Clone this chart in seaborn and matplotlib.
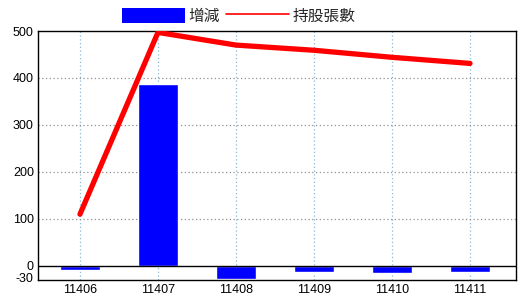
import matplotlib
matplotlib.use("Agg")
import matplotlib.pyplot as plt
import matplotlib.transforms as mtransforms
import seaborn as sns
import pandas as pd
from matplotlib.patches import Patch
from matplotlib.lines import Line2D

months = ["11406", "11407", "11408", "11409", "11410", "11411"]
change = [-8, 387, -28, -13, -15, -13]
holders = [110, 497, 470, 459, 444, 431]
yticks = [-30, 0, 100, 200, 300, 400, 500]
series_names = ["增減", "持股張數"]

sns.set_theme(style="white")
plt.rcParams['font.family'] = ['Liberation Sans', 'DejaVu Sans']

df = pd.DataFrame({"month": months, "change": change, "holders": holders})

fig = plt.figure(figsize=(5.2, 3.0), dpi=100)
ax = fig.add_axes([38/520, 20/300, (516-38)/520, (280-31)/300])

ax.set_axisbelow(True)
for i in range(len(months)):
    ax.axvline(i, color="#8ab8d8", lw=0.9, ls=(0, (1, 2)), zorder=0)
for y in yticks:
    if 0 < y < 500:
        ax.axhline(y, color="#909090", lw=0.9, ls=(0, (1, 2)), zorder=0)

sns.barplot(data=df, x="month", y="change", color="#0000ff", saturation=1,
            width=0.51, ax=ax, zorder=2)
sns.pointplot(data=df, x="month", y="holders", color="#ff0000", markers="",
              linewidth=3.8, ax=ax, zorder=3)
ax.axhline(0, color="black", lw=1.0, zorder=2.5)

ax.set_ylim(-30, 500)
ax.set_xlim(-0.538, 5.59)
ax.set_yticks(yticks)
ax.set_yticklabels([str(v) for v in yticks])
ax.set_xlabel("")
ax.set_ylabel("")
ax.tick_params(axis="both", length=0, labelsize=9, colors="black")
ax.tick_params(axis="y", pad=3)
ax.tick_params(axis="x", pad=3)
shift = mtransforms.ScaledTranslation(0, 2/100, fig.dpi_scale_trans)
for lab in ax.get_yticklabels():
    if lab.get_text() == "-30":
        lab.set_transform(lab.get_transform() + shift)
for sp in ax.spines.values():
    sp.set_color("black")
    sp.set_linewidth(1.0)

handles = [Patch(facecolor="#0000ff", edgecolor="none"),
           Line2D([], [], color="#ff0000", lw=1.2)]
fig.legend(handles, series_names, loc="center", bbox_to_anchor=(239/520, 1-16/300),
           ncol=2, frameon=False, handlelength=4.0, handleheight=1.1,
           handletextpad=0.25, columnspacing=0.4, borderaxespad=0, borderpad=0,
           prop={"family": ["Noto Sans CJK TC", "DejaVu Sans"], "size": 11.3})

fig.savefig("out.png", dpi=100)
